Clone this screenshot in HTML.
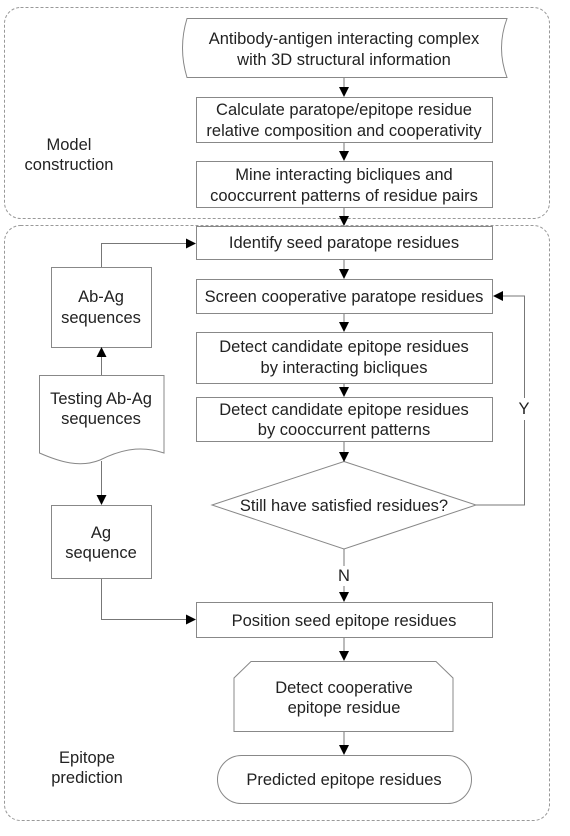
<!DOCTYPE html>
<html><head><meta charset="utf-8"><style>
html,body{margin:0;padding:0;background:#fff;}
svg{display:block;}
text{font-family:"Liberation Sans",Arial,sans-serif;font-size:16.5px;fill:#222;}
</style></head><body>
<svg width="570" height="836" viewBox="0 0 570 836" xmlns="http://www.w3.org/2000/svg">
<defs><marker id="a" markerWidth="10" markerHeight="10" refX="9" refY="5" orient="auto" markerUnits="userSpaceOnUse"><path d="M0,0 L10,5 L0,10 Z" fill="#000"/></marker></defs>
<g fill="none" stroke="#999" stroke-dasharray="3,2">
<rect x="4.5" y="7.5" width="545" height="211" rx="16"/>
<rect x="4.5" y="225.5" width="545" height="595" rx="16"/>
</g>
<g fill="#fff" stroke="#888">
<path d="M187,18.5 L507,18.5 Q496,48 507,77.5 L187,77.5 Q178,48 187,18.5 Z"/>
<rect x="196.5" y="97.5" width="296" height="45"/>
<rect x="196.5" y="161.5" width="296" height="46"/>
<rect x="196.5" y="226.5" width="296" height="33"/>
<rect x="196.5" y="279.5" width="296" height="34"/>
<rect x="196.5" y="332.5" width="296" height="51"/>
<rect x="196.5" y="397.5" width="296" height="44"/>
<path d="M344,461.5 L476,505 L344,549 L212,505 Z"/>
<rect x="196.5" y="602.5" width="296" height="35"/>
<path d="M251,661.5 L436,661.5 L453,678 L453,731.5 L234,731.5 L234,678 Z"/>
<rect x="217.5" y="755.5" width="254" height="48" rx="24"/>
<rect x="51.5" y="267.5" width="100" height="80"/>
<path d="M39.5,375.5 L164,375.5 L164,453 C140,445 120,450 100,460 C80,468 60,462 39.5,453 Z"/>
<rect x="51.5" y="505.5" width="100" height="73"/>
</g>
<g stroke="#777" fill="none">
<line x1="344" y1="78" x2="344" y2="96" marker-end="url(#a)"/>
<line x1="344" y1="143" x2="344" y2="160" marker-end="url(#a)"/>
<line x1="344" y1="208" x2="344" y2="225" marker-end="url(#a)"/>
<line x1="344" y1="260" x2="344" y2="278" marker-end="url(#a)"/>
<line x1="344" y1="314" x2="344" y2="331" marker-end="url(#a)"/>
<line x1="344" y1="384" x2="344" y2="396" marker-end="url(#a)"/>
<line x1="344" y1="442" x2="344" y2="461" marker-end="url(#a)"/>
<line x1="344" y1="549" x2="344" y2="566"/>
<line x1="344" y1="586" x2="344" y2="601" marker-end="url(#a)"/>
<line x1="344" y1="638" x2="344" y2="660" marker-end="url(#a)"/>
<line x1="344" y1="732" x2="344" y2="754" marker-end="url(#a)"/>
<polyline points="476,505 524.5,505 524.5,420"/>
<polyline points="524.5,398 524.5,296 494,296" marker-end="url(#a)"/>
<polyline points="101.5,267 101.5,243.5 195,243.5" marker-end="url(#a)"/>
<line x1="101.5" y1="375" x2="101.5" y2="348" marker-end="url(#a)"/>
<line x1="101.5" y1="461" x2="101.5" y2="504" marker-end="url(#a)"/>
<polyline points="101.5,579 101.5,619.5 195,619.5" marker-end="url(#a)"/>
</g>
<g text-anchor="middle">
<text x="344" y="44">Antibody-antigen interacting complex</text>
<text x="344" y="65">with 3D structural information</text>
<text x="344" y="115">Calculate paratope/epitope residue</text>
<text x="344" y="136">relative composition and cooperativity</text>
<text x="344" y="180">Mine interacting bicliques and</text>
<text x="344" y="201">cooccurrent patterns of residue pairs</text>
<text x="344" y="248">Identify seed paratope residues</text>
<text x="344" y="302">Screen cooperative paratope residues</text>
<text x="344" y="352">Detect candidate epitope residues</text>
<text x="344" y="373">by interacting bicliques</text>
<text x="344" y="415">Detect candidate epitope residues</text>
<text x="344" y="435">by cooccurrent patterns</text>
<text x="344" y="511">Still have satisfied residues?</text>
<text x="344" y="581">N</text>
<text x="344" y="626">Position seed epitope residues</text>
<text x="344" y="693">Detect cooperative</text>
<text x="344" y="713">epitope residue</text>
<text x="344" y="785">Predicted epitope residues</text>
<text x="101" y="302">Ab-Ag</text>
<text x="101" y="323">sequences</text>
<text x="101" y="404">Testing Ab-Ag</text>
<text x="101" y="424">sequences</text>
<text x="101" y="538">Ag</text>
<text x="101" y="558">sequence</text>
<text x="524" y="414">Y</text>
<text x="69" y="150">Model</text>
<text x="69" y="170">construction</text>
<text x="87" y="763">Epitope</text>
<text x="87" y="783">prediction</text>
</g>
</svg>
</body></html>
